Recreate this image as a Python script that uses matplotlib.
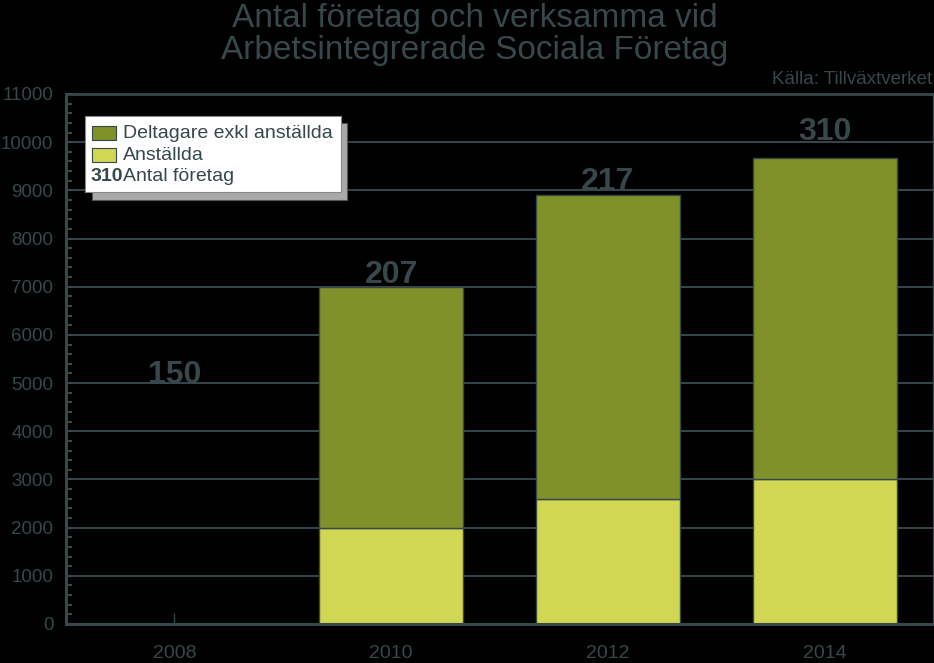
import matplotlib
matplotlib.use("Agg")
import matplotlib.pyplot as plt
from matplotlib.patches import Rectangle
from matplotlib.ticker import MultipleLocator
import numpy as np

years = ["2008", "2010", "2012", "2014"]
anstallda = [0, 2000, 2600, 3000]
deltagare = [0, 5000, 6300, 6670]
antal_foretag = [150, 207, 217, 310]
label_y = [5000, 7080, 9000, 10050]  # where the company counts sit

TXT = "#37474a"
GRID = "#34444a"
DARK = "#80912a"
LIGHT = "#d1d752"

plt.rcParams['font.family'] = ['Liberation Sans', 'DejaVu Sans']

W, H = 934, 663
fig = plt.figure(figsize=(W / 100, H / 100), dpi=100, facecolor="black")


def fx(px):
    return px / W


def fy(py):
    return 1 - py / H


ax = fig.add_axes([fx(66), fy(624), (933 - 66) / W, (624 - 94) / H])
ax.set_facecolor("black")

x = np.arange(len(years))
ax.bar(x, anstallda, width=0.664, color=LIGHT, edgecolor=TXT, linewidth=1, zorder=3)
ax.bar(x, deltagare, bottom=anstallda, width=0.664, color=DARK, edgecolor=TXT,
       linewidth=1, zorder=3)

for xi, n, yy in zip(x, antal_foretag, label_y):
    ax.text(xi, yy, str(n), ha="center", va="baseline", fontsize=23,
            fontweight="bold", color=TXT, zorder=4)

ax.set_xlim(-0.5, 3.5)
ax.set_ylim(0, 11000)
ax.set_xticks(x)
ax.set_xticklabels(years)
ax.yaxis.set_major_locator(MultipleLocator(1000))
ax.yaxis.set_minor_locator(MultipleLocator(200))
ax.grid(axis="y", color=GRID, linewidth=1.5, zorder=1)
ax.set_axisbelow(True)

ax.tick_params(axis="y", which="both", direction="in", colors=TXT, width=1.5,
               labelsize=13.5, pad=9, labelcolor=TXT)
ax.tick_params(axis="y", which="major", length=4.5)
ax.tick_params(axis="y", which="minor", length=4.5)
ax.tick_params(axis="x", direction="in", length=8, width=1, colors=TXT,
               labelsize=14, pad=15)

for side, lw in [("left", 2.2), ("bottom", 2.2), ("top", 2.0), ("right", 1.0)]:
    ax.spines[side].set_color(TXT)
    ax.spines[side].set_linewidth(lw)
    ax.spines[side].set_zorder(5)

# title and source
fig.text(fx(475), fy(18), "Antal företag och verksamma vid", ha="center",
         va="center", fontsize=24, color=TXT)
fig.text(fx(475), fy(51), "Arbetsintegrerade Sociala Företag", ha="center",
         va="center", fontsize=24, color=TXT)
fig.text(fx(932), fy(80), "Källa: Tillväxtverket", ha="right", va="center",
         fontsize=13.5, color=TXT)

# legend box drawn by hand
fig.patches.append(Rectangle((fx(92), fy(200)), (347 - 92) / W, (200 - 123) / H,
                             transform=fig.transFigure, facecolor="#a9a9a9",
                             edgecolor="#555555", linewidth=0.8, zorder=6))
fig.patches.append(Rectangle((fx(85), fy(192)), (341 - 85) / W, (192 - 116) / H,
                             transform=fig.transFigure, facecolor="white",
                             edgecolor="#888888", linewidth=0.8, zorder=7))
rows = [133, 155, 177]
for ry, col, lab in zip(rows[:2], [DARK, LIGHT], ["Deltagare exkl anställda", "Anställda"]):
    fig.patches.append(Rectangle((fx(92), fy(ry + 7)), 24 / W, 14 / H,
                                 transform=fig.transFigure, facecolor=col,
                                 edgecolor=TXT, linewidth=0.8, zorder=8))
    fig.text(fx(123), fy(ry), lab, ha="left", va="center", fontsize=14,
             color=TXT, zorder=9)
fig.text(fx(91), fy(rows[2]), "310", ha="left", va="center", fontsize=14,
         fontweight="bold", color=TXT, zorder=9)
fig.text(fx(123), fy(rows[2]), "Antal företag", ha="left", va="center",
         fontsize=14, color=TXT, zorder=9)

fig.savefig("out.png", dpi=100, facecolor="black")
